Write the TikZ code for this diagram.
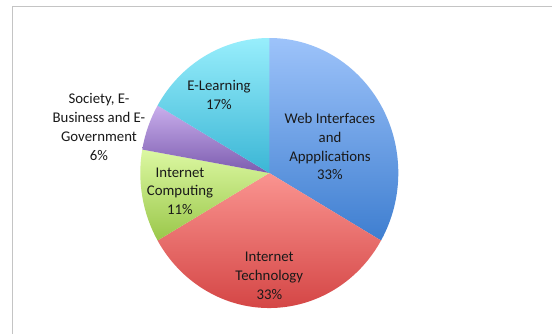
\documentclass[tikz,border=0pt]{standalone}
\usepackage{fontspec}
\setmainfont{Carlito}
\usetikzlibrary{calc}
\definecolor{frameg}{HTML}{C4C4C4}
\definecolor{blueT}{HTML}{9DC3FA}
\definecolor{blueB}{HTML}{3E7ED0}
\definecolor{redT}{HTML}{FA9490}
\definecolor{redB}{HTML}{CF3B3B}
\definecolor{greenT}{HTML}{DCF8A2}
\definecolor{greenB}{HTML}{9AC74A}
\definecolor{purpT}{HTML}{C9AEEC}
\definecolor{purpB}{HTML}{7C5CAF}
\definecolor{cyanT}{HTML}{98EEFC}
\definecolor{cyanB}{HTML}{3BB6D5}
\tikzset{
  lbl/.style={align=center, inner sep=0pt, font=\fontsize{14.8}{18.7}\selectfont, text=black!90},
}
\newcommand{\myslice}[4]{%
  \shade[top color=#3, bottom color=#4, draw=none]
    (O) -- ($(O)+(#1:129pt and 135pt)$)
    arc[start angle=#1, end angle=#2, x radius=129pt, y radius=135pt] -- cycle;}
\begin{document}
\begin{tikzpicture}[x=1pt,y=1pt]
\useasboundingbox (0,0) rectangle (552,333);
\fill[white] (0,0) rectangle (552,333);
\draw[frameg, line width=1pt] (12,-2) -- (12,326) -- (554,326);
\coordinate (O) at (269.3,160);
\myslice{90}{-30}{blueT}{blueB}
\myslice{-30}{-150}{redT}{redB}
\myslice{210}{170}{greenT}{greenB}
\myslice{170}{150}{purpT}{purpB}
\myslice{150}{90}{cyanT}{cyanB}
\node[lbl] (web) at (330,186.3) {Web Interfaces\\and\\Appplications\\33\%};
\node[lbl] (elearn) at (219,238) {E-Learning\\17\%};
\node[lbl] (soc) at (99,206) {Society, E-\\Business and E-\\Government\\6\%};
\node[lbl] (comp) at (180,141.8) {Internet\\Computing\\11\%};
\node[lbl] (tech) at (269.3,57) {Internet\\Technology\\33\%};
\end{tikzpicture}
\end{document}
